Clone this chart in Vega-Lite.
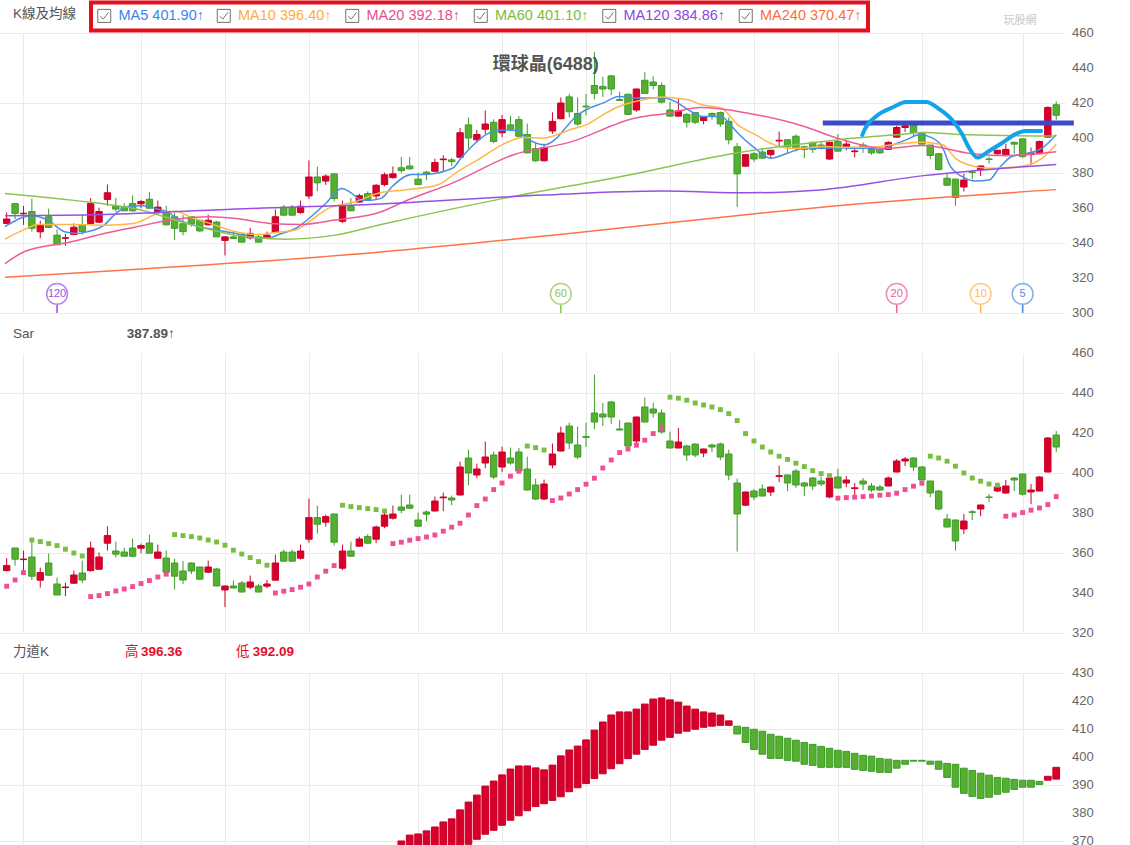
{
"$schema": "https://vega.github.io/schema/vega-lite/v6.json",
"background": "white",
"padding": {"left": 0, "top": 0, "right": 0, "bottom": 0},
"config": {"view": {"stroke": null}, "font": "Liberation Sans, Noto Sans CJK TC"},
"spacing": 40,
"bounds": "flush",
"resolve": {"scale": {"color": "independent"}},
"datasets": {
"k": [
{"i":0,"o":351.2,"h":357.5,"l":350.8,"c":353.7},{"i":1,"o":362.5,"h":362.5,"l":353.7,"c":356.9},{"i":2,"o":356.7,"h":361.2,"l":350.4,"c":357.0},{"i":3,"o":358.0,"h":365.4,"l":346.5,"c":348.4},{"i":4,"o":346.4,"h":352.7,"l":342.7,"c":350.2},{"i":5,"o":355.0,"h":359.7,"l":348.9,"c":348.9},{"i":6,"o":344.5,"h":347.7,"l":339.0,"c":339.0},{"i":7,"o":342.7,"h":345.2,"l":338.4,"c":343.0},{"i":8,"o":344.9,"h":351.2,"l":344.5,"c":349.0},{"i":9,"o":350.0,"h":356.2,"l":344.9,"c":346.5},
{"i":10,"o":351.2,"h":365.7,"l":350.7,"c":362.5},{"i":11,"o":351.9,"h":360.2,"l":351.5,"c":358.0},{"i":12,"o":364.9,"h":373.4,"l":361.2,"c":368.7},{"i":13,"o":361.0,"h":365.7,"l":357.7,"c":359.4},{"i":14,"o":360.5,"h":362.7,"l":358.4,"c":358.4},{"i":15,"o":362.5,"h":367.2,"l":358.0,"c":358.4},{"i":16,"o":362.4,"h":364.7,"l":359.9,"c":363.7},{"i":17,"o":365.0,"h":369.2,"l":359.9,"c":359.9},{"i":18,"o":357.4,"h":364.2,"l":357.0,"c":360.5},{"i":19,"o":357.5,"h":361.2,"l":350.0,"c":350.4},
{"i":20,"o":355.0,"h":357.2,"l":341.7,"c":348.4},{"i":21,"o":351.0,"h":356.0,"l":344.4,"c":346.5},{"i":22,"o":355.0,"h":355.2,"l":349.4,"c":351.0},{"i":23,"o":353.0,"h":353.2,"l":346.4,"c":346.9},{"i":24,"o":350.4,"h":356.2,"l":350.0,"c":353.0},{"i":25,"o":352.0,"h":352.5,"l":343.5,"c":343.5},{"i":26,"o":341.5,"h":343.7,"l":332.9,"c":343.5},{"i":27,"o":343.5,"h":346.2,"l":342.3,"c":342.5},{"i":28,"o":345.0,"h":346.0,"l":340.3,"c":340.5},{"i":29,"o":342.9,"h":348.7,"l":341.9,"c":345.5},
{"i":30,"o":343.5,"h":344.5,"l":340.3,"c":340.5},{"i":31,"o":343.4,"h":346.5,"l":342.4,"c":344.5},{"i":32,"o":346.4,"h":359.2,"l":346.2,"c":355.0},{"i":33,"o":360.5,"h":361.7,"l":355.7,"c":355.9},{"i":34,"o":360.5,"h":361.7,"l":355.7,"c":355.9},{"i":35,"o":357.4,"h":364.2,"l":356.7,"c":361.0},{"i":36,"o":366.9,"h":387.2,"l":365.2,"c":377.7},{"i":37,"o":377.7,"h":383.7,"l":369.7,"c":374.4},{"i":38,"o":375.4,"h":379.2,"l":373.2,"c":378.2},{"i":39,"o":379.5,"h":379.7,"l":363.7,"c":365.4},
{"i":40,"o":352.4,"h":364.2,"l":351.4,"c":361.0},{"i":41,"o":361.0,"h":365.7,"l":358.2,"c":358.4},{"i":42,"o":363.4,"h":368.2,"l":363.2,"c":367.0},{"i":43,"o":368.2,"h":369.5,"l":364.7,"c":364.9},{"i":44,"o":366.9,"h":373.7,"l":364.9,"c":373.0},{"i":45,"o":373.4,"h":380.2,"l":372.4,"c":379.0},{"i":46,"o":377.4,"h":383.7,"l":376.7,"c":379.5},{"i":47,"o":383.0,"h":389.2,"l":379.9,"c":381.4},{"i":48,"o":384.0,"h":389.2,"l":381.9,"c":382.4},{"i":49,"o":376.5,"h":380.2,"l":373.2,"c":373.4},
{"i":50,"o":380.5,"h":381.2,"l":375.9,"c":379.4},{"i":51,"o":381.0,"h":388.2,"l":380.8,"c":386.0},{"i":52,"o":387.6,"h":390.2,"l":380.9,"c":388.0},{"i":53,"o":387.5,"h":388.7,"l":383.9,"c":386.5},{"i":54,"o":389.0,"h":405.7,"l":388.8,"c":403.0},{"i":55,"o":407.5,"h":411.7,"l":393.9,"c":400.0},{"i":56,"o":399.0,"h":404.7,"l":397.4,"c":402.0},{"i":57,"o":405.0,"h":415.7,"l":402.4,"c":408.0},{"i":58,"o":409.0,"h":410.7,"l":397.0,"c":398.0},{"i":59,"o":403.0,"h":413.2,"l":400.4,"c":410.5},
{"i":60,"o":407.5,"h":412.7,"l":404.2,"c":405.0},{"i":61,"o":410.5,"h":412.5,"l":400.8,"c":401.0},{"i":62,"o":402.0,"h":408.2,"l":391.3,"c":391.5},{"i":63,"o":394.0,"h":397.2,"l":386.4,"c":387.0},{"i":64,"o":387.0,"h":396.7,"l":386.4,"c":394.5},{"i":65,"o":404.0,"h":414.7,"l":402.4,"c":409.5},{"i":66,"o":411.0,"h":423.2,"l":410.8,"c":420.0},{"i":67,"o":423.5,"h":425.2,"l":411.9,"c":415.0},{"i":68,"o":414.0,"h":423.2,"l":407.0,"c":408.0},{"i":69,"o":418.2,"h":425.2,"l":413.0,"c":417.8},
{"i":70,"o":430.0,"h":449.2,"l":422.0,"c":425.5},{"i":71,"o":429.5,"h":435.0,"l":423.5,"c":428.0},{"i":72,"o":435.5,"h":436.0,"l":424.5,"c":428.0},{"i":73,"o":422.0,"h":426.5,"l":421.3,"c":421.5},{"i":74,"o":425.0,"h":425.2,"l":413.3,"c":413.5},{"i":75,"o":416.0,"h":428.2,"l":415.0,"c":428.0},{"i":76,"o":433.0,"h":437.7,"l":425.3,"c":425.5},{"i":77,"o":432.0,"h":435.2,"l":427.7,"c":430.0},{"i":78,"o":430.0,"h":431.7,"l":419.7,"c":420.5},{"i":79,"o":416.0,"h":420.7,"l":412.3,"c":412.5},
{"i":80,"o":412.5,"h":422.5,"l":412.3,"c":415.5},{"i":81,"o":413.5,"h":414.2,"l":406.0,"c":409.0},{"i":82,"o":414.5,"h":414.7,"l":407.9,"c":409.0},{"i":83,"o":410.0,"h":412.2,"l":407.9,"c":412.0},{"i":84,"o":414.0,"h":414.7,"l":410.4,"c":413.0},{"i":85,"o":414.5,"h":415.2,"l":406.4,"c":408.0},{"i":86,"o":409.5,"h":411.7,"l":396.4,"c":399.0},{"i":87,"o":395.0,"h":397.2,"l":360.7,"c":379.5},{"i":88,"o":383.9,"h":390.7,"l":383.4,"c":390.5},{"i":89,"o":391.0,"h":392.0,"l":386.4,"c":388.0},
{"i":90,"o":392.0,"h":394.2,"l":388.3,"c":388.5},{"i":91,"o":390.5,"h":393.2,"l":388.5,"c":393.0},{"i":92,"o":398.3,"h":403.7,"l":395.4,"c":398.7},{"i":93,"o":399.0,"h":399.2,"l":390.9,"c":395.0},{"i":94,"o":401.0,"h":402.0,"l":392.4,"c":394.0},{"i":95,"o":395.0,"h":395.5,"l":388.4,"c":393.5},{"i":96,"o":397.5,"h":398.0,"l":391.4,"c":393.5},{"i":97,"o":396.0,"h":398.2,"l":393.5,"c":394.5},{"i":98,"o":388.0,"h":397.7,"l":387.4,"c":397.5},{"i":99,"o":398.0,"h":402.2,"l":392.3,"c":392.5},
{"i":100,"o":395.0,"h":398.5,"l":392.9,"c":396.5},{"i":101,"o":392.2,"h":395.0,"l":388.9,"c":392.6},{"i":102,"o":396.0,"h":397.5,"l":391.5,"c":394.5},{"i":103,"o":393.5,"h":395.0,"l":390.4,"c":391.5},{"i":104,"o":393.0,"h":394.0,"l":390.9,"c":391.5},{"i":105,"o":393.5,"h":398.2,"l":393.3,"c":397.5},{"i":106,"o":400.5,"h":407.0,"l":400.3,"c":406.0},{"i":107,"o":406.0,"h":408.0,"l":403.5,"c":407.0},{"i":108,"o":407.5,"h":407.7,"l":401.0,"c":403.0},{"i":109,"o":403.0,"h":403.5,"l":396.3,"c":396.5},
{"i":110,"o":396.0,"h":396.0,"l":387.9,"c":390.0},{"i":111,"o":391.0,"h":391.5,"l":381.4,"c":382.0},{"i":112,"o":377.0,"h":379.5,"l":372.8,"c":373.0},{"i":113,"o":376.5,"h":376.7,"l":361.2,"c":366.0},{"i":114,"o":372.0,"h":379.5,"l":369.4,"c":376.0},{"i":115,"o":380.6,"h":381.5,"l":376.4,"c":380.3},{"i":116,"o":382.0,"h":384.2,"l":378.4,"c":384.0},{"i":117,"o":388.0,"h":389.5,"l":385.4,"c":387.8},{"i":118,"o":391.0,"h":393.2,"l":390.4,"c":393.0},{"i":119,"o":390.0,"h":396.5,"l":389.5,"c":393.5},
{"i":120,"o":397.5,"h":398.0,"l":391.0,"c":396.5},{"i":121,"o":399.5,"h":399.7,"l":388.7,"c":389.4},{"i":122,"o":390.5,"h":394.5,"l":384.4,"c":391.5},{"i":123,"o":391.0,"h":398.5,"l":390.8,"c":398.0},{"i":124,"o":400.5,"h":418.0,"l":400.3,"c":417.5},{"i":125,"o":419.0,"h":421.0,"l":410.4,"c":413.0}
],
"sar": [
{"i":0,"v":343.4,"t":"up"},{"i":1,"v":346.5,"t":"up"},{"i":2,"v":350.2,"t":"up"},{"i":3,"v":366.5,"t":"down"},{"i":4,"v":365.7,"t":"down"},{"i":5,"v":364.7,"t":"down"},{"i":6,"v":363.7,"t":"down"},{"i":7,"v":361.9,"t":"down"},{"i":8,"v":360.0,"t":"down"},{"i":9,"v":358.5,"t":"down"},
{"i":10,"v":338.2,"t":"up"},{"i":11,"v":338.7,"t":"up"},{"i":12,"v":339.7,"t":"up"},{"i":13,"v":341.0,"t":"up"},{"i":14,"v":342.0,"t":"up"},{"i":15,"v":343.2,"t":"up"},{"i":16,"v":344.7,"t":"up"},{"i":17,"v":346.2,"t":"up"},{"i":18,"v":348.0,"t":"up"},{"i":19,"v":349.4,"t":"up"},
{"i":20,"v":369.2,"t":"down"},{"i":21,"v":368.7,"t":"down"},{"i":22,"v":368.2,"t":"down"},{"i":23,"v":367.5,"t":"down"},{"i":24,"v":366.5,"t":"down"},{"i":25,"v":365.5,"t":"down"},{"i":26,"v":363.9,"t":"down"},{"i":27,"v":361.4,"t":"down"},{"i":28,"v":359.5,"t":"down"},{"i":29,"v":357.7,"t":"down"},
{"i":30,"v":355.7,"t":"down"},{"i":31,"v":353.9,"t":"down"},{"i":32,"v":340.0,"t":"up"},{"i":33,"v":340.9,"t":"up"},{"i":34,"v":341.7,"t":"up"},{"i":35,"v":342.9,"t":"up"},{"i":36,"v":344.5,"t":"up"},{"i":37,"v":348.0,"t":"up"},{"i":38,"v":350.9,"t":"up"},{"i":39,"v":353.7,"t":"up"},
{"i":40,"v":383.9,"t":"down"},{"i":41,"v":383.2,"t":"down"},{"i":42,"v":382.7,"t":"down"},{"i":43,"v":382.2,"t":"down"},{"i":44,"v":381.7,"t":"down"},{"i":45,"v":381.0,"t":"down"},{"i":46,"v":364.7,"t":"up"},{"i":47,"v":365.4,"t":"up"},{"i":48,"v":366.4,"t":"up"},{"i":49,"v":367.2,"t":"up"},
{"i":50,"v":368.0,"t":"up"},{"i":51,"v":369.0,"t":"up"},{"i":52,"v":370.9,"t":"up"},{"i":53,"v":372.9,"t":"up"},{"i":54,"v":374.9,"t":"up"},{"i":55,"v":379.0,"t":"up"},{"i":56,"v":383.7,"t":"up"},{"i":57,"v":387.0,"t":"up"},{"i":58,"v":391.7,"t":"up"},{"i":59,"v":395.0,"t":"up"},
{"i":60,"v":398.4,"t":"up"},{"i":61,"v":400.9,"t":"up"},{"i":62,"v":413.5,"t":"down"},{"i":63,"v":412.7,"t":"down"},{"i":64,"v":411.5,"t":"down"},{"i":65,"v":386.2,"t":"up"},{"i":66,"v":387.5,"t":"up"},{"i":67,"v":389.5,"t":"up"},{"i":68,"v":391.7,"t":"up"},{"i":69,"v":394.4,"t":"up"},
{"i":70,"v":397.4,"t":"up"},{"i":71,"v":402.5,"t":"up"},{"i":72,"v":406.5,"t":"up"},{"i":73,"v":410.2,"t":"up"},{"i":74,"v":412.0,"t":"up"},{"i":75,"v":413.9,"t":"up"},{"i":76,"v":416.4,"t":"up"},{"i":77,"v":419.7,"t":"up"},{"i":78,"v":422.4,"t":"up"},{"i":79,"v":437.9,"t":"down"},
{"i":80,"v":437.4,"t":"down"},{"i":81,"v":436.4,"t":"down"},{"i":82,"v":435.0,"t":"down"},{"i":83,"v":434.0,"t":"down"},{"i":84,"v":433.0,"t":"down"},{"i":85,"v":431.7,"t":"down"},{"i":86,"v":429.7,"t":"down"},{"i":87,"v":426.2,"t":"down"},{"i":88,"v":419.7,"t":"down"},{"i":89,"v":416.0,"t":"down"},
{"i":90,"v":413.0,"t":"down"},{"i":91,"v":410.5,"t":"down"},{"i":92,"v":408.4,"t":"down"},{"i":93,"v":406.8,"t":"down"},{"i":94,"v":404.9,"t":"down"},{"i":95,"v":403.2,"t":"down"},{"i":96,"v":401.2,"t":"down"},{"i":97,"v":399.7,"t":"down"},{"i":98,"v":398.7,"t":"down"},{"i":99,"v":387.4,"t":"up"},
{"i":100,"v":387.7,"t":"up"},{"i":101,"v":387.9,"t":"up"},{"i":102,"v":388.2,"t":"up"},{"i":103,"v":388.5,"t":"up"},{"i":104,"v":388.9,"t":"up"},{"i":105,"v":389.2,"t":"up"},{"i":106,"v":389.9,"t":"up"},{"i":107,"v":391.7,"t":"up"},{"i":108,"v":393.4,"t":"up"},{"i":109,"v":394.9,"t":"up"},
{"i":110,"v":408.4,"t":"down"},{"i":111,"v":407.5,"t":"down"},{"i":112,"v":405.9,"t":"down"},{"i":113,"v":403.4,"t":"down"},{"i":114,"v":400.0,"t":"down"},{"i":115,"v":397.5,"t":"down"},{"i":116,"v":395.9,"t":"down"},{"i":117,"v":394.5,"t":"down"},{"i":118,"v":393.9,"t":"down"},{"i":119,"v":378.4,"t":"up"},
{"i":120,"v":379.0,"t":"up"},{"i":121,"v":380.2,"t":"up"},{"i":122,"v":381.4,"t":"up"},{"i":123,"v":382.5,"t":"up"},{"i":124,"v":384.2,"t":"up"},{"i":125,"v":388.2,"t":"up"}
],
"force": [
{"i":47,"lo":365,"hi":370.0,"d":"up"},{"i":48,"lo":365,"hi":372.1,"d":"up"},{"i":49,"lo":365,"hi":372.5,"d":"up"},{"i":50,"lo":365,"hi":373.6,"d":"up"},{"i":51,"lo":365,"hi":375.0,"d":"up"},{"i":52,"lo":365,"hi":376.8,"d":"up"},{"i":53,"lo":365,"hi":377.9,"d":"up"},{"i":54,"lo":368.4,"hi":381.1,"d":"up"},{"i":55,"lo":368.8,"hi":383.9,"d":"up"},{"i":56,"lo":370.6,"hi":386.4,"d":"up"},
{"i":57,"lo":372.4,"hi":389.6,"d":"up"},{"i":58,"lo":373.8,"hi":391.4,"d":"up"},{"i":59,"lo":375.6,"hi":393.6,"d":"up"},{"i":60,"lo":377.4,"hi":395.7,"d":"up"},{"i":61,"lo":379.0,"hi":396.8,"d":"up"},{"i":62,"lo":380.8,"hi":396.8,"d":"up"},{"i":63,"lo":382.3,"hi":396.1,"d":"up"},{"i":64,"lo":383.3,"hi":395.4,"d":"up"},{"i":65,"lo":384.5,"hi":397.1,"d":"up"},{"i":66,"lo":385.8,"hi":400.4,"d":"up"},
{"i":67,"lo":387.6,"hi":402.5,"d":"up"},{"i":68,"lo":389.0,"hi":403.9,"d":"up"},{"i":69,"lo":390.5,"hi":406.1,"d":"up"},{"i":70,"lo":392.3,"hi":409.6,"d":"up"},{"i":71,"lo":394.0,"hi":412.5,"d":"up"},{"i":72,"lo":395.8,"hi":415.0,"d":"up"},{"i":73,"lo":397.6,"hi":416.1,"d":"up"},{"i":74,"lo":399.4,"hi":416.1,"d":"up"},{"i":75,"lo":401.0,"hi":417.1,"d":"up"},{"i":76,"lo":402.7,"hi":418.9,"d":"up"},
{"i":77,"lo":404.2,"hi":420.7,"d":"up"},{"i":78,"lo":406.0,"hi":421.1,"d":"up"},{"i":79,"lo":407.0,"hi":420.4,"d":"up"},{"i":80,"lo":408.5,"hi":419.6,"d":"up"},{"i":81,"lo":409.2,"hi":418.2,"d":"up"},{"i":82,"lo":409.9,"hi":417.1,"d":"up"},{"i":83,"lo":410.6,"hi":416.1,"d":"up"},{"i":84,"lo":411.0,"hi":415.7,"d":"up"},{"i":85,"lo":411.3,"hi":415.0,"d":"up"},{"i":86,"lo":411.3,"hi":412.9,"d":"up"},
{"i":87,"lo":408.2,"hi":411.0,"d":"down"},{"i":88,"lo":405.2,"hi":410.6,"d":"down"},{"i":89,"lo":402.7,"hi":409.9,"d":"down"},{"i":90,"lo":401.0,"hi":409.2,"d":"down"},{"i":91,"lo":399.5,"hi":408.1,"d":"down"},{"i":92,"lo":399.5,"hi":407.4,"d":"down"},{"i":93,"lo":398.8,"hi":406.7,"d":"down"},{"i":94,"lo":398.5,"hi":406.0,"d":"down"},{"i":95,"lo":397.4,"hi":405.2,"d":"down"},{"i":96,"lo":397.0,"hi":404.5,"d":"down"},
{"i":97,"lo":396.3,"hi":403.8,"d":"down"},{"i":98,"lo":396.3,"hi":403.1,"d":"down"},{"i":99,"lo":396.3,"hi":402.4,"d":"down"},{"i":100,"lo":396.3,"hi":402.0,"d":"down"},{"i":101,"lo":395.6,"hi":401.3,"d":"down"},{"i":102,"lo":395.2,"hi":400.6,"d":"down"},{"i":103,"lo":394.9,"hi":400.3,"d":"down"},{"i":104,"lo":394.5,"hi":399.5,"d":"down"},{"i":105,"lo":394.5,"hi":399.2,"d":"down"},{"i":106,"lo":396.0,"hi":398.8,"d":"down"},
{"i":107,"lo":397.4,"hi":398.8,"d":"down"},{"i":108,"lo":398.5,"hi":398.8,"d":"down"},{"i":109,"lo":398.5,"hi":398.8,"d":"down"},{"i":110,"lo":397.4,"hi":398.5,"d":"down"},{"i":111,"lo":395.6,"hi":398.5,"d":"down"},{"i":112,"lo":392.7,"hi":397.7,"d":"down"},{"i":113,"lo":389.2,"hi":397.4,"d":"down"},{"i":114,"lo":387.0,"hi":396.0,"d":"down"},{"i":115,"lo":385.9,"hi":395.2,"d":"down"},{"i":116,"lo":385.2,"hi":394.2,"d":"down"},
{"i":117,"lo":385.6,"hi":393.5,"d":"down"},{"i":118,"lo":386.7,"hi":392.7,"d":"down"},{"i":119,"lo":387.4,"hi":392.4,"d":"down"},{"i":120,"lo":388.4,"hi":392.0,"d":"down"},{"i":121,"lo":389.2,"hi":391.7,"d":"down"},{"i":122,"lo":389.2,"hi":391.7,"d":"down"},{"i":123,"lo":390.2,"hi":391.3,"d":"down"},{"i":124,"lo":391.7,"hi":393.1,"d":"up"},{"i":125,"lo":392.1,"hi":396.3,"d":"up"}
],
"ma": [
{"ma":"MA5","i":-0.2,"v":349.3},{"ma":"MA5","i":1.8,"v":354.4},{"ma":"MA5","i":2.9,"v":355.6},{"ma":"MA5","i":4.9,"v":353.1},{"ma":"MA5","i":6.9,"v":346.4},{"ma":"MA5","i":8.4,"v":345.4},{"ma":"MA5","i":9.6,"v":346.4},{"ma":"MA5","i":11.6,"v":350.2},{"ma":"MA5","i":12.8,"v":355.9},{"ma":"MA5","i":14.3,"v":360.7},{"ma":"MA5","i":16.3,"v":361.3},{"ma":"MA5","i":17.9,"v":359.4},{"ma":"MA5","i":19.1,"v":357.9},{"ma":"MA5","i":20.6,"v":353.1},{"ma":"MA5","i":22.6,"v":349.8},{"ma":"MA5","i":25,"v":347.4},{"ma":"MA5","i":27.3,"v":345.4},{"ma":"MA5","i":29.7,"v":343.0},{"ma":"MA5","i":31.3,"v":343.0},{"ma":"MA5","i":32.4,"v":344.9},{"ma":"MA5","i":34.4,"v":348.3},{"ma":"MA5","i":36,"v":354.0},{"ma":"MA5","i":38,"v":362.6},{"ma":"MA5","i":39.9,"v":371.2},{"ma":"MA5","i":41.1,"v":368.4},{"ma":"MA5","i":42.3,"v":364.5},{"ma":"MA5","i":43.4,"v":364.5},{"ma":"MA5","i":44.6,"v":365.5},{"ma":"MA5","i":46,"v":372.7},{"ma":"MA5","i":48.2,"v":379.2},{"ma":"MA5","i":49.7,"v":379.2},{"ma":"MA5","i":53.1,"v":382.7},{"ma":"MA5","i":54.1,"v":388.4},{"ma":"MA5","i":55.6,"v":396.1},{"ma":"MA5","i":57.2,"v":402.2},{"ma":"MA5","i":58.4,"v":404.1},{"ma":"MA5","i":59.6,"v":404.6},{"ma":"MA5","i":60.8,"v":404.3},{"ma":"MA5","i":61.9,"v":399.9},{"ma":"MA5","i":63.1,"v":397.0},{"ma":"MA5","i":64.1,"v":396.1},{"ma":"MA5","i":65.5,"v":399.9},{"ma":"MA5","i":66.7,"v":406.6},{"ma":"MA5","i":67.8,"v":412.3},{"ma":"MA5","i":69.4,"v":417.1},{"ma":"MA5","i":71,"v":419.9},{"ma":"MA5","i":72.9,"v":423.7},{"ma":"MA5","i":74.9,"v":422.8},{"ma":"MA5","i":76.9,"v":422.8},{"ma":"MA5","i":78,"v":423.2},{"ma":"MA5","i":79.6,"v":420.9},{"ma":"MA5","i":81.2,"v":416.1},{"ma":"MA5","i":82.8,"v":412.3},{"ma":"MA5","i":85.1,"v":412.3},{"ma":"MA5","i":86.2,"v":407.5},{"ma":"MA5","i":87.1,"v":402.7},{"ma":"MA5","i":89.1,"v":394.2},{"ma":"MA5","i":91,"v":388.4},{"ma":"MA5","i":93,"v":391.3},{"ma":"MA5","i":95,"v":394.2},{"ma":"MA5","i":97.3,"v":394.2},{"ma":"MA5","i":98.9,"v":394.5},{"ma":"MA5","i":100.9,"v":394.2},{"ma":"MA5","i":102.8,"v":394.2},{"ma":"MA5","i":104,"v":393.2},{"ma":"MA5","i":105.6,"v":396.1},{"ma":"MA5","i":107.1,"v":398.9},{"ma":"MA5","i":108.7,"v":401.8},{"ma":"MA5","i":110.3,"v":399.9},{"ma":"MA5","i":111.5,"v":394.2},{"ma":"MA5","i":112.3,"v":384.6},{"ma":"MA5","i":113.8,"v":377.9},{"ma":"MA5","i":115.4,"v":375.4},{"ma":"MA5","i":117,"v":376.0},{"ma":"MA5","i":118.2,"v":382.7},{"ma":"MA5","i":119.7,"v":389.4},{"ma":"MA5","i":121.7,"v":391.3},{"ma":"MA5","i":123.3,"v":394.2},{"ma":"MA5","i":125,"v":401.9},
{"ma":"MA10","i":-0.2,"v":342.2},{"ma":"MA10","i":2.2,"v":347.9},{"ma":"MA10","i":3.7,"v":350.6},{"ma":"MA10","i":7.7,"v":350.6},{"ma":"MA10","i":11.6,"v":350.2},{"ma":"MA10","i":15.1,"v":351.2},{"ma":"MA10","i":18.7,"v":357.9},{"ma":"MA10","i":20.2,"v":358.2},{"ma":"MA10","i":21.8,"v":355.0},{"ma":"MA10","i":24.2,"v":351.2},{"ma":"MA10","i":27.3,"v":346.4},{"ma":"MA10","i":29.7,"v":344.9},{"ma":"MA10","i":32,"v":346.0},{"ma":"MA10","i":34.4,"v":347.4},{"ma":"MA10","i":36,"v":352.1},{"ma":"MA10","i":38.3,"v":359.8},{"ma":"MA10","i":41.5,"v":363.6},{"ma":"MA10","i":44.6,"v":368.9},{"ma":"MA10","i":47.4,"v":370.3},{"ma":"MA10","i":51.3,"v":373.1},{"ma":"MA10","i":53.7,"v":380.8},{"ma":"MA10","i":56.4,"v":388.4},{"ma":"MA10","i":59,"v":396.1},{"ma":"MA10","i":61.5,"v":400.3},{"ma":"MA10","i":63.9,"v":399.9},{"ma":"MA10","i":65.5,"v":401.8},{"ma":"MA10","i":67,"v":404.6},{"ma":"MA10","i":69,"v":407.5},{"ma":"MA10","i":71,"v":413.2},{"ma":"MA10","i":72.9,"v":418.0},{"ma":"MA10","i":74.9,"v":420.9},{"ma":"MA10","i":76.9,"v":422.8},{"ma":"MA10","i":78,"v":423.4},{"ma":"MA10","i":79.6,"v":422.8},{"ma":"MA10","i":81.2,"v":421.8},{"ma":"MA10","i":82.8,"v":419.0},{"ma":"MA10","i":85.1,"v":417.1},{"ma":"MA10","i":86,"v":413.2},{"ma":"MA10","i":87,"v":407.8},{"ma":"MA10","i":88,"v":404.8},{"ma":"MA10","i":89,"v":402.4},{"ma":"MA10","i":91,"v":397.0},{"ma":"MA10","i":93,"v":394.2},{"ma":"MA10","i":95,"v":394.2},{"ma":"MA10","i":97.3,"v":395.1},{"ma":"MA10","i":100,"v":394.7},{"ma":"MA10","i":102.8,"v":394.7},{"ma":"MA10","i":104.8,"v":395.7},{"ma":"MA10","i":106.8,"v":397.0},{"ma":"MA10","i":109.1,"v":397.6},{"ma":"MA10","i":111.5,"v":396.1},{"ma":"MA10","i":113,"v":388.4},{"ma":"MA10","i":114.6,"v":384.6},{"ma":"MA10","i":117,"v":382.7},{"ma":"MA10","i":119.3,"v":383.1},{"ma":"MA10","i":121.7,"v":384.6},{"ma":"MA10","i":123.3,"v":388.4},{"ma":"MA10","i":125,"v":396.4},
{"ma":"MA20","i":-0.2,"v":328.2},{"ma":"MA20","i":2.2,"v":335.3},{"ma":"MA20","i":7.7,"v":340.7},{"ma":"MA20","i":11.6,"v":345.4},{"ma":"MA20","i":15.5,"v":349.3},{"ma":"MA20","i":19.5,"v":353.1},{"ma":"MA20","i":24.2,"v":355.0},{"ma":"MA20","i":27.3,"v":354.0},{"ma":"MA20","i":31.3,"v":351.2},{"ma":"MA20","i":35.2,"v":350.6},{"ma":"MA20","i":39.1,"v":353.1},{"ma":"MA20","i":44.6,"v":357.9},{"ma":"MA20","i":47.3,"v":363.6},{"ma":"MA20","i":53.2,"v":374.5},{"ma":"MA20","i":60.3,"v":390.3},{"ma":"MA20","i":67,"v":397.5},{"ma":"MA20","i":74.9,"v":411.4},{"ma":"MA20","i":78.8,"v":414.2},{"ma":"MA20","i":82.7,"v":417.4},{"ma":"MA20","i":88.3,"v":414.2},{"ma":"MA20","i":95,"v":406.6},{"ma":"MA20","i":98.9,"v":399.9},{"ma":"MA20","i":104.8,"v":394.1},{"ma":"MA20","i":109.2,"v":395.7},{"ma":"MA20","i":114.6,"v":391.3},{"ma":"MA20","i":118.6,"v":390.0},{"ma":"MA20","i":125,"v":392.2},
{"ma":"MA60","i":-0.2,"v":368.3},{"ma":"MA60","i":7.7,"v":364.5},{"ma":"MA60","i":15.5,"v":359.4},{"ma":"MA60","i":21.4,"v":351.2},{"ma":"MA60","i":27.3,"v":344.5},{"ma":"MA60","i":33.2,"v":342.2},{"ma":"MA60","i":39.1,"v":344.5},{"ma":"MA60","i":44.6,"v":350.6},{"ma":"MA60","i":59.2,"v":365.5},{"ma":"MA60","i":74.1,"v":378.9},{"ma":"MA60","i":86.7,"v":391.3},{"ma":"MA60","i":98.9,"v":398.9},{"ma":"MA60","i":106.8,"v":402.2},{"ma":"MA60","i":109.1,"v":403.1},{"ma":"MA60","i":114.6,"v":401.8},{"ma":"MA60","i":125,"v":401.1},
{"ma":"MA120","i":-0.2,"v":355.6},{"ma":"MA120","i":11.6,"v":356.3},{"ma":"MA120","i":27.3,"v":359.4},{"ma":"MA120","i":44.6,"v":362.3},{"ma":"MA120","i":63.9,"v":367.4},{"ma":"MA120","i":78,"v":369.7},{"ma":"MA120","i":88.3,"v":368.7},{"ma":"MA120","i":93,"v":369.2},{"ma":"MA120","i":96.9,"v":370.3},{"ma":"MA120","i":109.2,"v":378.5},{"ma":"MA120","i":125,"v":384.9},
{"ma":"MA240","i":-0.2,"v":320.4},{"ma":"MA240","i":44.6,"v":334.9},{"ma":"MA240","i":65.9,"v":344.9},{"ma":"MA240","i":88.3,"v":356.3},{"ma":"MA240","i":98.9,"v":361.3},{"ma":"MA240","i":125,"v":370.5}
],
"mk": [
{"i":6,"n":"120","ma":"MA120"},{"i":66,"n":"60","ma":"MA60"},{"i":106,"n":"20","ma":"MA20"},{"i":116,"n":"10","ma":"MA10"},{"i":121,"n":"5","ma":"MA5"}
],
"pen": [
{"k":0,"i":101.9,"v":401.7},{"k":1,"i":102.2,"v":405.0},{"k":2,"i":103.6,"v":412.6},{"k":3,"i":105.6,"v":417.7},{"k":4,"i":107.1,"v":420.6},{"k":5,"i":109.5,"v":420.6},{"k":6,"i":111.1,"v":416.4},{"k":7,"i":112.7,"v":409.7},{"k":8,"i":113.8,"v":402.1},{"k":9,"i":114.6,"v":394.5},{"k":10,"i":115.6,"v":388.8},{"k":11,"i":117,"v":392.6},{"k":12,"i":118.6,"v":397.3},{"k":13,"i":120.1,"v":402.1},{"k":14,"i":121.3,"v":404.0},{"k":15,"i":123.2,"v":404.0}
]
},
"vconcat": [
{
"width": 1065, "height": 280,
"layer": [
{"data": {"name": "k"}, "mark": {"type": "rule", "clip": true, "strokeWidth": 1},
 "encoding": {
  "x": {"field": "i", "type": "quantitative", "scale": {"domain": [-0.2, 125.45], "nice": false, "zero": false}, "axis": {"values": [2,16,26,36,49,59,69,79,89,99,109,121], "grid": true, "gridColor": "#ebebeb", "labels": false, "ticks": false, "domain": false, "title": null}},
  "y": {"field": "l", "type": "quantitative", "scale": {"domain": [300, 460], "nice": false, "zero": false}, "axis": {"orient": "right", "values": [300,320,340,360,380,400,420,440,460], "grid": true, "gridColor": "#ebebeb", "ticks": false, "domain": false, "labels": false, "title": null}},
  "y2": {"field": "h"},
  "stroke": {"condition": {"test": "datum.c >= datum.o", "value": "#d0002a"}, "value": "#3e9b2a"}
 }},
{"data": {"name": "k"}, "mark": {"type": "bar", "clip": true, "width": 6.4, "strokeWidth": 1},
 "encoding": {
  "x": {"field": "i", "type": "quantitative"},
  "y": {"field": "o", "type": "quantitative"},
  "y2": {"field": "c"},
  "fill": {"condition": {"test": "datum.c >= datum.o", "value": "#d8002b"}, "value": "#55b030"},
  "stroke": {"condition": {"test": "datum.c >= datum.o", "value": "#c80026"}, "value": "#3e9b2a"}
 }},
{"data": {"name": "ma"}, "mark": {"type": "line", "clip": true, "strokeWidth": 1.5, "interpolate": "monotone"},
 "encoding": {
  "x": {"field": "i", "type": "quantitative"},
  "y": {"field": "v", "type": "quantitative"},
  "color": {"field": "ma", "type": "nominal",
   "scale": {"domain": ["MA5","MA10","MA20","MA60","MA120","MA240"], "range": ["#4a8fe7","#ffb648","#ee5b97","#8cc44f","#9550e4","#ff7347"]},
   "legend": null}
 }},
{"data": {"name": "mk"}, "mark": {"type": "rule", "strokeWidth": 1.5},
 "encoding": {"x": {"field": "i", "type": "quantitative"}, "y": {"datum": 304.6}, "y2": {"datum": 300}, "color": {"field": "ma", "type": "nominal", "legend": null}}},
{"data": {"name": "mk"}, "mark": {"type": "point", "shape": "circle", "size": 430, "filled": false, "strokeWidth": 1.5},
 "encoding": {"x": {"field": "i", "type": "quantitative"}, "y": {"datum": 310.9},
  "color": {"field": "ma", "type": "nominal", "legend": null},
  "fill": {"field": "ma", "type": "nominal",
   "scale": {"domain": ["MA5","MA10","MA20","MA60","MA120","MA240"], "range": ["white","white","white","white","white","white"]},
   "legend": {"orient": "none", "legendX": 91, "legendY": -30.5, "direction": "horizontal", "columns": 6, "title": null,
     "symbolType": "M-1,-1H1V1H-1Z M-0.6,0.05L-0.15,0.5L0.65,-0.55", "symbolSize": 169, "symbolStrokeWidth": 1, "symbolStrokeColor": "#707070", "symbolOpacity": 1,
     "labelFontSize": 14.5, "labelOffset": 7, "columnPadding": 10.5, "padding": 6, "strokeColor": "#e3101d",
     "labelExpr": "datum.label == 'MA5' ? 'MA5 401.90↑' : datum.label == 'MA10' ? 'MA10 396.40↑' : datum.label == 'MA20' ? 'MA20 392.18↑' : datum.label == 'MA60' ? 'MA60 401.10↑' : datum.label == 'MA120' ? 'MA120 384.86↑' : 'MA240 370.47↑'",
     "encode": {
       "legend": {"update": {"stroke": {"value": "#e3101d"}, "strokeWidth": {"value": 4}}},
       "labels": {"update": {"fill": {"signal": "datum.value == 'MA5' ? '#3d84e6' : datum.value == 'MA10' ? '#ffab3a' : datum.value == 'MA20' ? '#ec4b8c' : datum.value == 'MA60' ? '#7cbd3c' : datum.value == 'MA120' ? '#8c47e0' : '#ff6a3d'"}}}
     }}
  }}},
{"data": {"name": "mk"}, "mark": {"type": "text", "fontSize": 11, "baseline": "middle", "align": "center"},
 "encoding": {"x": {"field": "i", "type": "quantitative"}, "y": {"datum": 310.9}, "text": {"field": "n"}, "color": {"field": "ma", "type": "nominal", "legend": null}}},
{"data": {"values": [{}]}, "mark": {"type": "rule", "strokeWidth": 5, "color": "#3b4bc8"},
 "encoding": {"x": {"datum": 97.2}, "x2": {"datum": 127.1}, "y": {"datum": 408.6}}},
{"data": {"name": "pen"}, "mark": {"type": "line", "strokeWidth": 4, "color": "#12a3ea", "interpolate": "monotone", "strokeCap": "round"},
 "encoding": {"x": {"field": "i", "type": "quantitative"}, "y": {"field": "v", "type": "quantitative"}, "order": {"field": "k"}}},
{"data": {"values": [{"t":300},{"t":320},{"t":340},{"t":360},{"t":380},{"t":400},{"t":420},{"t":440},{"t":460}]}, "mark": {"type": "text", "align": "left", "baseline": "middle", "fontSize": 13, "color": "#666"},
 "encoding": {"x": {"datum": 126.87}, "y": {"field": "t", "type": "quantitative"}, "text": {"field": "t", "type": "quantitative", "format": "d"}}},
{"data": {"values": [{}]}, "mark": {"type": "text", "text": "K線及均線", "align": "left", "baseline": "middle", "fontSize": 13.5, "color": "#555"},
 "encoding": {"x": {"datum": 0.75}, "y": {"datum": 470.9}}},
{"data": {"values": [{}]}, "mark": {"type": "text", "text": "環球晶(6488)", "align": "center", "baseline": "middle", "fontSize": 18, "fontWeight": "bold", "color": "#555"},
 "encoding": {"x": {"datum": 64.2}, "y": {"datum": 441.7}}},
{"data": {"values": [{}]}, "mark": {"type": "text", "text": "玩股網", "align": "center", "baseline": "middle", "fontSize": 11, "color": "#c8c8c8"},
 "encoding": {"x": {"datum": 120.7}, "y": {"datum": 466.9}}}
]
},
{
"width": 1065, "height": 280,
"layer": [
{"data": {"name": "k"}, "mark": {"type": "rule", "clip": true, "strokeWidth": 1},
 "encoding": {
  "x": {"field": "i", "type": "quantitative", "scale": {"domain": [-0.2, 125.45], "nice": false, "zero": false}, "axis": {"values": [2,16,26,36,49,59,69,79,89,99,109,121], "grid": true, "gridColor": "#ebebeb", "labels": false, "ticks": false, "domain": false, "title": null}},
  "y": {"field": "l", "type": "quantitative", "scale": {"domain": [320, 460], "nice": false, "zero": false}, "axis": {"orient": "right", "values": [320,340,360,380,400,420,440,460], "grid": true, "gridColor": "#ebebeb", "ticks": false, "domain": false, "labels": false, "title": null}},
  "y2": {"field": "h"},
  "stroke": {"condition": {"test": "datum.c >= datum.o", "value": "#d0002a"}, "value": "#3e9b2a"}
 }},
{"data": {"name": "k"}, "mark": {"type": "bar", "clip": true, "width": 6.4, "strokeWidth": 1},
 "encoding": {
  "x": {"field": "i", "type": "quantitative"},
  "y": {"field": "o", "type": "quantitative"},
  "y2": {"field": "c"},
  "fill": {"condition": {"test": "datum.c >= datum.o", "value": "#d8002b"}, "value": "#55b030"},
  "stroke": {"condition": {"test": "datum.c >= datum.o", "value": "#c80026"}, "value": "#3e9b2a"}
 }},
{"data": {"name": "sar"}, "mark": {"type": "square", "size": 24, "clip": true, "opacity": 1},
 "encoding": {
  "x": {"field": "i", "type": "quantitative"},
  "y": {"field": "v", "type": "quantitative"},
  "color": {"field": "t", "type": "nominal", "scale": {"domain": ["up","down"], "range": ["#ef4f92","#77bf3e"]}, "legend": null}
 }},
{"data": {"values": [{"t":320},{"t":340},{"t":360},{"t":380},{"t":400},{"t":420},{"t":440},{"t":460}]}, "mark": {"type": "text", "align": "left", "baseline": "middle", "fontSize": 13, "color": "#666"},
 "encoding": {"x": {"datum": 126.87}, "y": {"field": "t", "type": "quantitative"}, "text": {"field": "t", "type": "quantitative", "format": "d"}}},
{"data": {"values": [{}]}, "mark": {"type": "text", "text": "Sar", "align": "left", "baseline": "middle", "fontSize": 13.5, "color": "#555"},
 "encoding": {"x": {"datum": 0.75}, "y": {"datum": 469.5}}},
{"data": {"values": [{}]}, "mark": {"type": "text", "text": "387.89↑", "align": "left", "baseline": "middle", "fontSize": 13.5, "fontWeight": "bold", "color": "#555"},
 "encoding": {"x": {"datum": 14.3}, "y": {"datum": 469.5}}}
]
},
{
"width": 1065, "height": 173,
"layer": [
{"data": {"name": "force"}, "mark": {"type": "bar", "clip": true, "width": 6.7, "strokeWidth": 1},
 "encoding": {
  "x": {"field": "i", "type": "quantitative", "scale": {"domain": [-0.2, 125.45], "nice": false, "zero": false}, "axis": {"values": [2,16,26,36,49,59,69,79,89,99,109,121], "grid": true, "gridColor": "#ebebeb", "labels": false, "ticks": false, "domain": false, "title": null}},
  "y": {"field": "lo", "type": "quantitative", "scale": {"domain": [368.2, 430], "nice": false, "zero": false}, "axis": {"orient": "right", "values": [370,380,390,400,410,420,430], "grid": true, "gridColor": "#ebebeb", "ticks": false, "domain": false, "labels": false, "title": null}},
  "y2": {"field": "hi"},
  "fill": {"condition": {"test": "datum.d == 'up'", "value": "#d8002b"}, "value": "#55b030"},
  "stroke": {"condition": {"test": "datum.d == 'up'", "value": "#c80026"}, "value": "#3e9b2a"}
 }},
{"data": {"values": [{"t":370},{"t":380},{"t":390},{"t":400},{"t":410},{"t":420},{"t":430}]}, "mark": {"type": "text", "align": "left", "baseline": "middle", "fontSize": 13, "color": "#666"},
 "encoding": {"x": {"datum": 126.87}, "y": {"field": "t", "type": "quantitative"}, "text": {"field": "t", "type": "quantitative", "format": "d"}}},
{"data": {"values": [{}]}, "mark": {"type": "text", "text": "力道K", "align": "left", "baseline": "middle", "fontSize": 13.5, "color": "#555"},
 "encoding": {"x": {"datum": 0.75}, "y": {"datum": 437.5}}},
{"data": {"values": [{}]}, "mark": {"type": "text", "text": "高", "align": "left", "baseline": "middle", "fontSize": 13.5, "color": "#e0102b"},
 "encoding": {"x": {"datum": 14.1}, "y": {"datum": 437.5}}},
{"data": {"values": [{}]}, "mark": {"type": "text", "text": "396.36", "align": "left", "baseline": "middle", "fontSize": 13.5, "fontWeight": "bold", "color": "#e0102b"},
 "encoding": {"x": {"datum": 16.0}, "y": {"datum": 437.5}}},
{"data": {"values": [{}]}, "mark": {"type": "text", "text": "低", "align": "left", "baseline": "middle", "fontSize": 13.5, "color": "#e0102b"},
 "encoding": {"x": {"datum": 27.3}, "y": {"datum": 437.5}}},
{"data": {"values": [{}]}, "mark": {"type": "text", "text": "392.09", "align": "left", "baseline": "middle", "fontSize": 13.5, "fontWeight": "bold", "color": "#e0102b"},
 "encoding": {"x": {"datum": 29.3}, "y": {"datum": 437.5}}}
]
}
]
}
